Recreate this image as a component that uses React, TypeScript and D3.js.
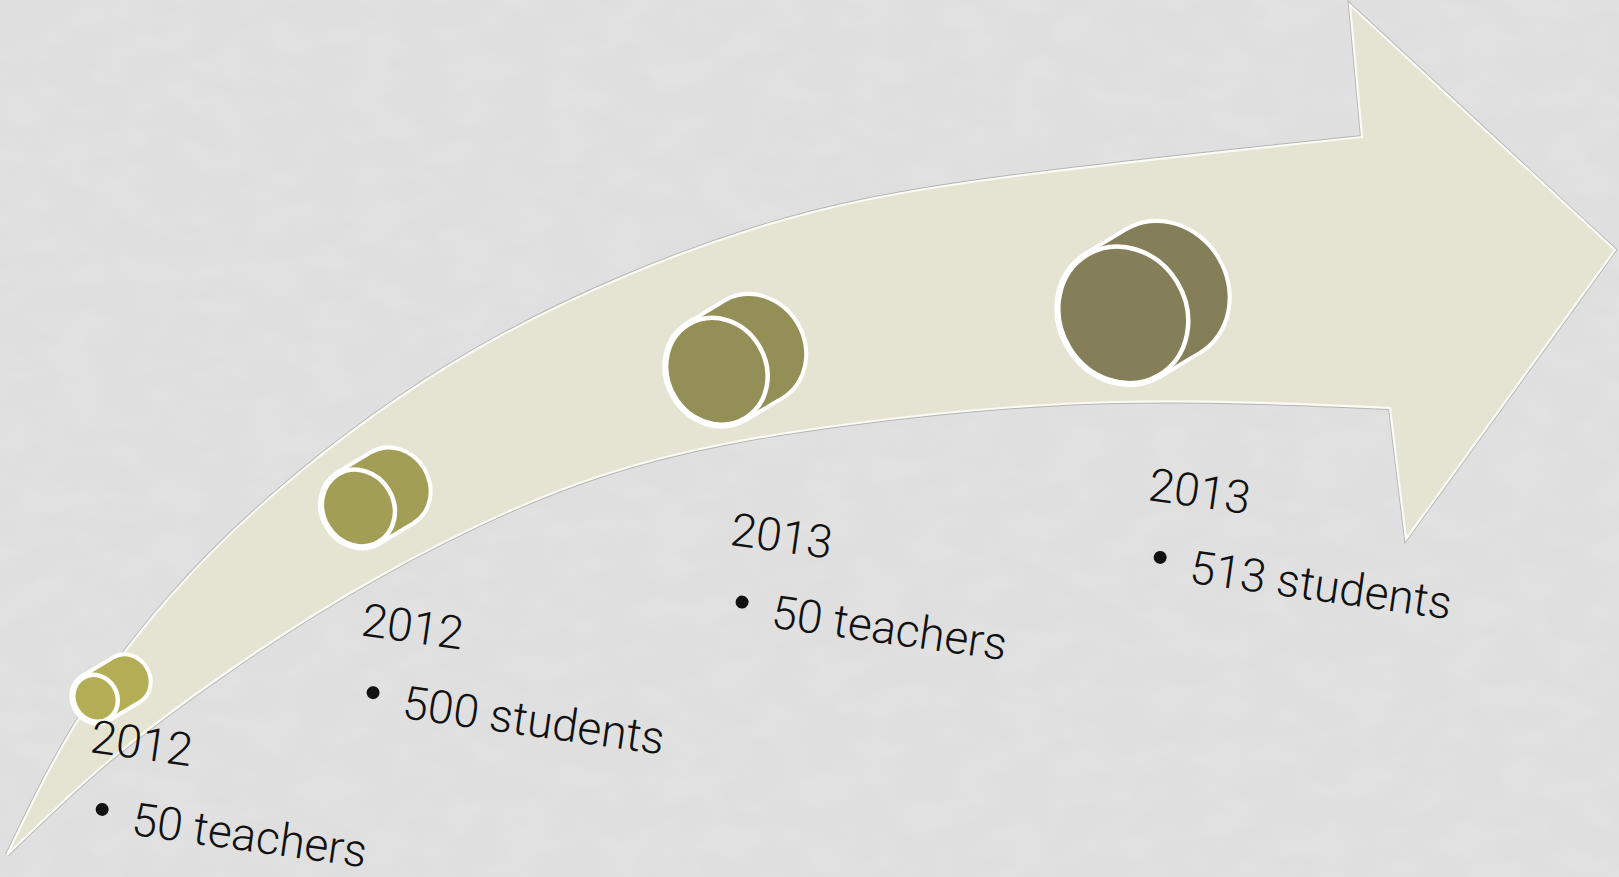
import React from 'react';
import * as d3 from 'd3';

// Timeline values
const years = ['2012', '2012', '2013', '2013'];
const counts = [50, 500, 50, 513];
const groups = ['teachers', 'students', 'teachers', 'students'];

// Arrow outline (shape geometry)
const upperEdge: [number, number][] = [
    [7, 855], [73, 728], [167, 600], [300, 472], [500, 336], [750, 230],
    [1000, 178], [1362, 137]
];
const lowerEdge: [number, number][] = [
    [7, 855], [110, 760], [233, 668], [380, 576], [600, 476], [850, 424],
    [1116, 402], [1390, 408]
];
const arrowHead: [number, number][] = [[1350, 5], [1615, 250], [1406, 539]];

const WIDTH = 1619;
const HEIGHT = 877;
const TILT = 31;
const TEXT_ANGLE = 8;
const FONT = "'Century Gothic', Roboto, 'Noto Sans', sans-serif";

const steps = years.map((_, i) => i);
const last = steps.length - 1;

// cylinders travel along the arrow, growing with each step
const along = d3.scalePow().exponent(1.24).domain([0, last]).range([111, 1143]);
const track = d3.scaleLinear().domain([111, 375, 730, 1143]).range([689, 498, 361, 303]);
const radius = d3.scaleLinear().domain([0, last]).range([24, 70]);
const depth = d3.scaleLinear().domain([0, last]).range([36, 46]);
const tone = d3.scaleLinear<string>().domain([0, last]).range(['#b3ad55', '#847f58']);

// labels sit under the arrow
const labelAlong = d3.scalePow().exponent(1.24).domain([0, last]).range([89, 1147]);
const labelTrack = d3.scaleLinear().domain([89, 357, 726, 1147]).range([752, 636, 545, 500]);

const edgeLine = d3.line<[number, number]>().curve(d3.curveNatural);

function arrowPath() {
    const up = edgeLine(upperEdge) as string;
    const down = (edgeLine([...lowerEdge].reverse()) as string).replace(/^M/, 'L');
    const head = arrowHead.map(p => `L${p[0]},${p[1]}`).join('');
    return up + head + down + 'Z';
}

const rad = (TILT * Math.PI) / 180;
const u = [Math.cos(rad), -Math.sin(rad)];
const v = [Math.sin(rad), Math.cos(rad)];

const Cylinder: React.FC<{ i: number }> = ({ i }) => {
    const cx = along(i);
    const cy = track(cx);
    const r = radius(i);
    const m = r * 0.9;
    const d = depth(i) / 2;
    const front = [cx - u[0] * d, cy - u[1] * d];
    const back = [cx + u[0] * d, cy + u[1] * d];
    const body = [
        [front[0] + v[0] * r, front[1] + v[1] * r],
        [back[0] + v[0] * r, back[1] + v[1] * r],
        [back[0] - v[0] * r, back[1] - v[1] * r],
        [front[0] - v[0] * r, front[1] - v[1] * r]
    ].map(p => p.join(',')).join(' ');
    const fill = tone(i);
    const ell = (p: number[]) => `translate(${p[0]},${p[1]}) rotate(${-TILT})`;

    return (
        <g>
            {/* white silhouette */}
            <g fill="#fff" stroke="#fff" strokeWidth={8} strokeLinejoin="round">
                <ellipse transform={ell(back)} rx={m} ry={r} />
                <polygon points={body} />
                <ellipse transform={ell(front)} rx={m} ry={r} />
            </g>
            <g fill={fill}>
                <ellipse transform={ell(back)} rx={m} ry={r} />
                <polygon points={body} />
            </g>
            <ellipse transform={ell(front)} rx={m} ry={r} fill={fill} stroke="#fff" strokeWidth={4.5} />
        </g>
    );
};

const App: React.FC = () => {
    const path = arrowPath();

    return (
        <svg
            width={WIDTH}
            height={HEIGHT}
            style={{ position: 'absolute', left: 0, top: 0, display: 'block' }}
        >
            <defs>
                {/* faint paper texture */}
                <filter id="paper" x="0" y="0" width="100%" height="100%">
                    <feTurbulence type="fractalNoise" baseFrequency="0.02 0.035" numOctaves={3} seed={4} />
                    <feColorMatrix type="matrix" values="0 0 0 0 1  0 0 0 0 1  0 0 0 0 1  0 0 0 0.9 -0.35" />
                </filter>
            </defs>
            <rect width={WIDTH} height={HEIGHT} fill="#dfdfdf" />
            <rect width={WIDTH} height={HEIGHT} filter="url(#paper)" opacity={0.22} />

            {/* arrow */}
            <path d={path} fill="none" stroke="#a3a3a3" strokeWidth={4} strokeLinejoin="miter" opacity={0.7} />
            <path d={path} fill="#e5e4d3" stroke="#fbfbf6" strokeWidth={2.2} strokeLinejoin="miter" />

            {steps.map(i => <Cylinder key={i} i={i} />)}

            {steps.map(i => {
                const x = labelAlong(i);
                const y = labelTrack(x);
                return (
                    <g key={`label-${i}`} transform={`translate(${x},${y}) rotate(${TEXT_ANGLE})`}
                        fontFamily={FONT} fontSize={46} fill="#111">
                        <text x={0} y={0} fontWeight={300}>{years[i]}</text>
                        <circle cx={21} cy={55} r={6.5} fill="#111" />
                        <text x={52} y={76} fontWeight={300}>{`${counts[i]} ${groups[i]}`}</text>
                    </g>
                );
            })}
        </svg>
    );
};

export default App;
